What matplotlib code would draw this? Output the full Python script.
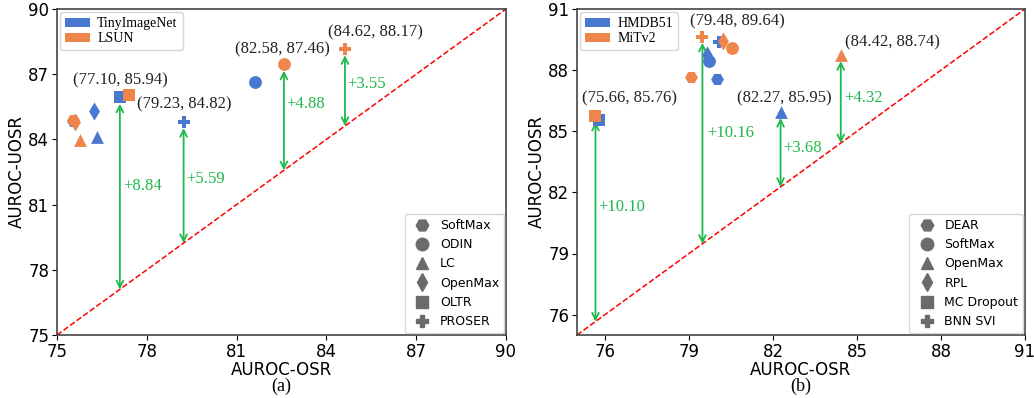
import matplotlib

matplotlib.use("Agg")
import matplotlib.pyplot as plt
from matplotlib.lines import Line2D
from matplotlib.patches import Patch

BLUE = "#4878d0"
ORANGE = "#ee854a"
GREEN = "#1fb84a"
GRAY = "#6b6b6b"
SERIF = "Liberation Serif"

# ---- panel (a) data ----
methods_a = ["SoftMax", "ODIN", "LC", "OpenMax", "OLTR", "PROSER"]
markers_a = ["H", "o", "^", "d", "s", "P"]
tin_osr = [75.55, 81.62, 76.35, 76.23, 77.10, 79.23]
tin_uosr = [84.85, 86.66, 84.13, 85.31, 85.94, 84.82]
lsun_osr = [75.55, 82.58, 75.77, 75.60, 77.42, 84.62]
lsun_uosr = [84.88, 87.46, 83.97, 84.80, 86.02, 88.17]
gain_x_a = [77.10, 79.23, 82.58, 84.62]
gain_y_a = [85.94, 84.82, 87.46, 88.17]
gain_lbl_a = ["+8.84", "+5.59", "+4.88", "+3.55"]
gain_lbl_pos_a = [(77.22, 81.86), (79.30, 82.18), (82.66, 85.63), (84.70, 86.55)]
coord_lbl_pos_a = [(77.13, 86.73), (79.24, 85.63), (82.52, 88.16), (85.65, 88.93)]

# ---- panel (b) data ----
methods_b = ["DEAR", "SoftMax", "OpenMax", "RPL", "MC Dropout", "BNN SVI"]
markers_b = ["H", "o", "^", "d", "s", "P"]
hmdb_osr = [79.99, 79.71, 82.27, 79.63, 75.80, 80.07]
hmdb_uosr = [87.55, 88.45, 85.95, 88.72, 85.55, 89.40]
mit_osr = [79.06, 80.55, 84.42, 80.20, 75.66, 79.48]
mit_uosr = [87.65, 89.07, 88.74, 89.42, 85.76, 89.64]
gain_x_b = [75.66, 79.48, 82.27, 84.42]
gain_y_b = [85.76, 89.64, 85.95, 88.74]
gain_lbl_b = ["+10.10", "+10.16", "+3.68", "+4.32"]
gain_lbl_pos_b = [(75.74, 81.27), (79.66, 84.90), (82.38, 84.19), (84.55, 86.65)]
coord_lbl_pos_b = [(76.86, 86.62), (80.73, 90.38), (82.39, 86.62), (86.25, 89.35)]

plt.rcParams["font.size"] = 12

fig = plt.figure(figsize=(10.34, 3.98), dpi=100)
ax_a = fig.add_axes([57 / 1034, 63 / 398, 449 / 1034, 326 / 398])
ax_b = fig.add_axes([577 / 1034, 63 / 398, 448 / 1034, 326 / 398])


def draw_panel(ax, lim, ticks, methods, markers, d1, d2, names,
               gx, gy, glbl, gpos, cpos):
    lo, hi = lim
    ax.plot([lo, hi], [lo, hi], ls="--", color="red", lw=1.1, zorder=1)
    for i, m in enumerate(markers):
        ax.scatter(d1[0][i], d1[1][i], marker=m, s=85, color=BLUE, zorder=3, linewidths=0)
        ax.scatter(d2[0][i], d2[1][i], marker=m, s=85, color=ORANGE, zorder=4, linewidths=0)
    for x, y, lbl, (tx, ty), (cx, cy) in zip(gx, gy, glbl, gpos, cpos):
        ax.annotate("", xy=(x, x), xytext=(x, y - 0.3),
                    arrowprops=dict(arrowstyle="<->", color=GREEN, lw=1.3,
                                    shrinkA=0, shrinkB=0, mutation_scale=12),
                    zorder=2)
        ax.text(tx, ty, lbl, color=GREEN, family=SERIF, fontsize=12,
                ha="left", va="center")
        ax.text(cx, cy, f"({x:.2f}, {y:.2f})", color="#222222", family=SERIF,
                fontsize=12, ha="center", va="center")
    ax.set_xlim(lo, hi)
    ax.set_ylim(lo, hi)
    ax.set_xticks(ticks)
    ax.set_yticks(ticks)
    ax.tick_params(pad=2)
    ax.set_xlabel("AUROC-OSR", labelpad=0)
    ax.set_ylabel("AUROC-UOSR", labelpad=2)
    for sp in ax.spines.values():
        sp.set_color("#444444")
        sp.set_linewidth(1.2)

    h1 = [Patch(facecolor=BLUE, label=names[0]), Patch(facecolor=ORANGE, label=names[1])]
    leg1 = ax.legend(handles=h1, loc="upper left", prop={"family": SERIF, "size": 10},
                     handlelength=1.8, handleheight=0.6, borderpad=0.35,
                     labelspacing=0.15, handletextpad=0.5, borderaxespad=0.25)
    ax.add_artist(leg1)
    h2 = [Line2D([], [], ls="", marker=m, color=GRAY, markersize=9, label=n)
          for m, n in zip(markers, methods)]
    ax.legend(handles=h2, loc="lower right", fontsize=9, borderpad=0.4,
              labelspacing=0.5, handletextpad=0.4, borderaxespad=0.15)


draw_panel(ax_a, (75, 90), [75, 78, 81, 84, 87, 90], methods_a, markers_a,
           (tin_osr, tin_uosr), (lsun_osr, lsun_uosr), ["TinyImageNet", "LSUN"],
           gain_x_a, gain_y_a, gain_lbl_a, gain_lbl_pos_a, coord_lbl_pos_a)
draw_panel(ax_b, (75, 91), [76, 79, 82, 85, 88, 91], methods_b, markers_b,
           (hmdb_osr, hmdb_uosr), (mit_osr, mit_uosr), ["HMDB51", "MiTv2"],
           gain_x_b, gain_y_b, gain_lbl_b, gain_lbl_pos_b, coord_lbl_pos_b)

fig.text(281 / 1034, 1 - 386 / 398, "(a)", family=SERIF, fontsize=13,
         ha="center", va="center")
fig.text(801 / 1034, 1 - 386 / 398, "(b)", family=SERIF, fontsize=13,
         ha="center", va="center")

fig.savefig("out.png", dpi=100)
